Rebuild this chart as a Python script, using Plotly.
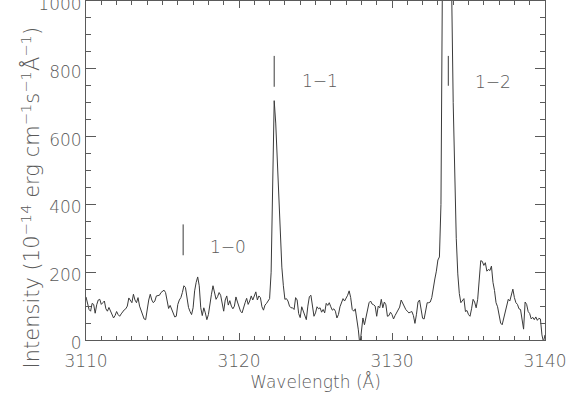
import numpy as np
import plotly.graph_objects as go

wave_start = 3110.0
wave_step = 0.1
intensity = [
    127, 112, 90, 85, 108, 105, 79, 104, 118, 120,
    105, 110, 115, 92, 85, 96, 85, 72, 65, 72,
    84, 75, 70, 77, 84, 89, 92, 100, 124, 115,
    110, 135, 118, 110, 125, 100, 85, 74, 62, 60,
    92, 118, 135, 118, 110, 115, 130, 132, 132, 140,
    143, 147, 140, 118, 93, 102, 90, 76, 68, 70,
    105, 118, 125, 140, 160, 155, 130, 96, 84, 75,
    95, 145, 170, 186, 160, 95, 72, 95, 80, 60,
    75, 110, 135, 160, 135, 120, 128, 140, 132, 108,
    85, 118, 130, 103, 116, 100, 92, 100, 127, 112,
    98, 85, 80, 92, 110, 123, 105, 115, 130, 118,
    128, 142, 118, 130, 125, 98, 88, 103, 108, 114,
    122, 200, 450, 706, 640, 525, 410, 295, 215, 160,
    120, 122, 115, 100, 95, 95, 90, 125, 118, 78,
    66, 98, 85, 68, 60, 100, 128, 132, 105, 70,
    80, 98, 92, 95, 82, 90, 80, 108, 102, 110,
    98, 88, 92, 85, 65, 75, 98, 112, 122, 115,
    122, 132, 145, 125, 90, 85, 92, 65, 30, -15,
    38, 65, 45, 70, 95, 110, 115, 106, 104, 100,
    70, 100, 95, 120, 95, 112, 104, 70, 72, 82,
    75, 62, 72, 82, 92, 97, 118, 108, 100, 90,
    85, 80, 82, 84, 72, 49, 76, 112, 118, 95,
    64, 62, 86, 110, 110, 112, 125, 157, 180, 203,
    236, 245, 400, 1100, 1500, 1600, 1600, 1500, 1300, 1030,
    700, 460, 300, 195, 137, 110, 116, 122, 84, 87,
    75, 70, 92, 120, 112, 95, 120, 175, 234, 232,
    220, 228, 203, 208, 205, 218, 170, 146, 110, 98,
    76, 50, 45, 64, 86, 105, 120, 115, 132, 150,
    125, 110, 105, 92, 90, 60, 32, 112, 105, 84,
    78, 62, 67, 60, 68, 58, 64, 62, 15, -5,
    15,
]
wavelength = wave_start + wave_step * np.arange(len(intensity))

# band identifications
band_labels = ["1−0", "1−1", "1−2"]
band_wave = [3116.35, 3122.3, 3133.68]
band_tick_lo = [250, 747, 750]
band_tick_hi = [341, 838, 838]
label_x = [3119.3, 3125.3, 3136.6]
label_y = [274, 765, 760]

ink = "#3a3a3a"
grey = "#5a5a5a"
font_family = "DejaVu Sans, Liberation Sans, sans-serif"

fig = go.Figure()
fig.add_trace(go.Scatter(x=wavelength, y=intensity, mode="lines",
                         line=dict(color=ink, width=1), showlegend=False))

for w, lo, hi in zip(band_wave, band_tick_lo, band_tick_hi):
    fig.add_trace(go.Scatter(x=[w, w], y=[lo, hi], mode="lines",
                             line=dict(color=ink, width=1), showlegend=False))

for txt, x, y in zip(band_labels, label_x, label_y):
    fig.add_annotation(x=x, y=y, text=txt, showarrow=False,
                       font=dict(size=17, color=grey, family=font_family, weight=200))

# y title as a rotated annotation, sits a bit below the axis middle like the original
fig.add_annotation(xref="paper", yref="paper", x=0, y=0.5, xshift=-72, yshift=-27,
                   textangle=-90, showarrow=False,
                   text="Intensity (10<sup>−14</sup> erg cm<sup>−1</sup>s<sup>−1</sup>Å<sup>−1</sup>)",
                   font=dict(size=21, color=grey, family=font_family, weight=200))

axis_style = dict(showline=True, linecolor=grey, linewidth=1, mirror="ticks",
                  ticks="inside", tickcolor=grey, showgrid=False, zeroline=False,
                  automargin=False, ticklabeloverflow="allow",
                  tickfont=dict(size=17, color=grey, family=font_family, weight=200))

fig.update_xaxes(range=[3110, 3140], tickvals=[3110, 3120, 3130, 3140],
                 ticklen=7, ticklabelstandoff=6,
                 minor=dict(dtick=1, ticks="inside", ticklen=4, tickcolor=grey),
                 title=dict(text="Wavelength (Å)", standoff=0,
                            font=dict(size=17, color=grey, family=font_family, weight=200)),
                 **axis_style)
fig.update_yaxes(range=[0, 1000], tickvals=[0, 200, 400, 600, 800, 1000],
                 ticklen=10, ticklabelshift=3,
                 minor=dict(dtick=50, ticks="inside", ticklen=5, tickcolor=grey),
                 **axis_style)

fig.update_layout(width=567, height=395, margin=dict(l=86, r=22, t=1, b=55),
                  plot_bgcolor="white", paper_bgcolor="white",
                  font=dict(family=font_family, color=grey))

# page body has a default 8px margin; drop it so the figure fills the window
fig.write_html("out.html", config={"displayModeBar": False},
               post_script="document.body.style.margin='0';")
